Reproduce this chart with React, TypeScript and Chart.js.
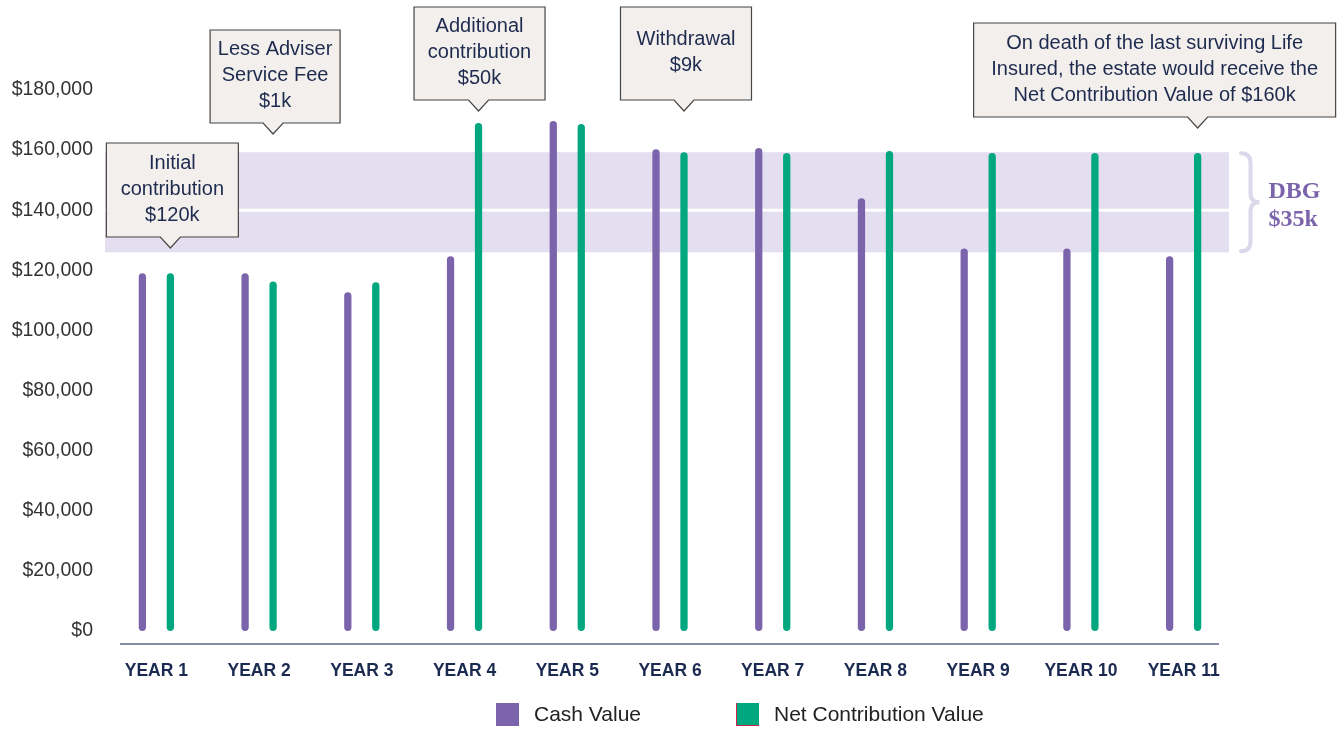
import React, { useEffect, useRef } from "react";
import { Chart, registerables } from "chart.js";

Chart.register(...registerables);

// ---------- data ----------
const CATEGORIES = ["YEAR 1", "YEAR 2", "YEAR 3", "YEAR 4", "YEAR 5", "YEAR 6", "YEAR 7", "YEAR 8", "YEAR 9", "YEAR 10", "YEAR 11"];
const CASH_VALUE = [119000, 119000, 112700, 124700, 169700, 160300, 160700, 144000, 127300, 127300, 124700];
const NET_CONTRIBUTION = [119000, 116300, 116000, 169000, 168700, 159300, 159000, 159700, 159000, 159000, 159000];
const Y_MIN = 0;
const Y_MAX = 180000;
const Y_STEP = 20000;
const DBG_RANGE = [126000, 159300];
const DBG_SPLIT = 140000;
const DBG_LABEL = ["DBG", "$35k"];
const LEGEND_LABELS = ["Cash Value", "Net Contribution Value"];
const CALLOUT_TEXT = [
  ["Initial", "contribution", "$120k"],
  ["Less Adviser", "Service Fee", "$1k"],
  ["Additional", "contribution", "$50k"],
  ["Withdrawal", "$9k"],
  ["On death of the last surviving Life", "Insured, the estate would receive the", "Net Contribution Value of $160k"],
];
const CALLOUT_TARGET = [0, 1, 3, 5, 10];

// ---------- styles / layout ----------
const PURPLE = "#7b64ab";
const GREEN = "#00a77f";
const BAND = "#e3dff0";
const NAVY = "#1e2b4f";
const SANS = "'Liberation Sans', Arial, Helvetica, sans-serif";
const SERIF = "'Liberation Serif', 'Times New Roman', serif";
const CALLOUT_BOXES = [
  { top: 143, w: 132, h: 94, dx: 2 },
  { top: 30, w: 130, h: 93, dx: 2 },
  { top: 7, w: 131, h: 93, dx: 1 },
  { top: 7, w: 131, h: 93, dx: 2 },
  { top: 23, w: 362, h: 94, dx: -43 },
];

function drawCallout(ctx: CanvasRenderingContext2D, tipX: number, box: any, lines: string[]) {
  const cx = tipX + box.dx;
  const left = cx - box.w / 2;
  const right = left + box.w;
  const top = box.top;
  const bottom = top + box.h;
  ctx.save();
  ctx.beginPath();
  ctx.moveTo(left, top);
  ctx.lineTo(right, top);
  ctx.lineTo(right, bottom);
  ctx.lineTo(tipX + 10, bottom);
  ctx.lineTo(tipX, bottom + 11);
  ctx.lineTo(tipX - 10, bottom);
  ctx.lineTo(left, bottom);
  ctx.closePath();
  ctx.fillStyle = "#f2efec";
  ctx.fill();
  ctx.strokeStyle = "#454545";
  ctx.lineWidth = 1.2;
  ctx.stroke();
  ctx.fillStyle = NAVY;
  ctx.font = `20px ${SANS}`;
  ctx.textAlign = "center";
  ctx.textBaseline = "middle";
  const lh = 26;
  const cy = top + box.h / 2 - 1;
  const y0 = cy - ((lines.length - 1) / 2) * lh;
  lines.forEach((t, i) => ctx.fillText(t, cx, y0 + i * lh));
  ctx.restore();
}

const overlayPlugin = {
  id: "overlay",
  beforeDatasetsDraw(chart: any) {
    const { ctx, chartArea, scales } = chart;
    const y = scales.y;
    const top = y.getPixelForValue(DBG_RANGE[1]);
    const bot = y.getPixelForValue(DBG_RANGE[0]);
    const mid = y.getPixelForValue(DBG_SPLIT);
    const w = chartArea.right - 6 - chartArea.left;
    ctx.save();
    ctx.fillStyle = BAND;
    ctx.fillRect(chartArea.left, top, w, bot - top);
    ctx.fillStyle = "#ffffff";
    ctx.fillRect(chartArea.left, mid - 1.5, w, 3);
    // x axis line
    const zero = y.getPixelForValue(0);
    ctx.strokeStyle = "#5f6680";
    ctx.lineWidth = 1.5;
    ctx.beginPath();
    ctx.moveTo(chartArea.left + 15, zero + 13);
    ctx.lineTo(chartArea.right - 16, zero + 13);
    ctx.stroke();
    ctx.restore();
  },
  afterDraw(chart: any) {
    const { ctx, chartArea, scales } = chart;
    const y = scales.y;
    const top = y.getPixelForValue(DBG_RANGE[1]);
    const bot = y.getPixelForValue(DBG_RANGE[0]);
    const midY = (top + bot) / 2;
    const r = chartArea.right;
    // brace
    ctx.save();
    ctx.strokeStyle = "#dcd8ec";
    ctx.lineWidth = 4;
    ctx.lineCap = "round";
    const xl = r + 6, xv = r + 15.5, xt = r + 24.5;
    ctx.beginPath();
    ctx.moveTo(xl, top + 1);
    ctx.quadraticCurveTo(xv, top + 1, xv, top + 11);
    ctx.lineTo(xv, midY - 9);
    ctx.quadraticCurveTo(xv, midY, xt, midY);
    ctx.quadraticCurveTo(xv, midY, xv, midY + 9);
    ctx.lineTo(xv, bot - 11);
    ctx.quadraticCurveTo(xv, bot - 1, xl, bot - 1);
    ctx.stroke();
    // DBG label
    ctx.fillStyle = PURPLE;
    ctx.font = `bold 24px ${SERIF}`;
    ctx.textAlign = "left";
    ctx.textBaseline = "alphabetic";
    ctx.fillText(DBG_LABEL[0], r + 33.5, 198);
    ctx.fillText(DBG_LABEL[1], r + 33.5, 226);
    ctx.restore();

    // callouts
    const meta = chart.getDatasetMeta(1);
    CALLOUT_TEXT.forEach((lines, i) => {
      const el = meta.data[CALLOUT_TARGET[i]];
      if (el) drawCallout(ctx, el.x, CALLOUT_BOXES[i], lines);
    });

    // legend
    ctx.save();
    const items = [
      { x: 496, color: PURPLE, label: LEGEND_LABELS[0] },
      { x: 736, color: GREEN, label: LEGEND_LABELS[1] },
    ];
    items.forEach((it, i) => {
      ctx.fillStyle = it.color;
      ctx.fillRect(it.x, 703, 23, 23);
      if (i === 1) {
        ctx.fillStyle = "#d0204a";
        ctx.fillRect(it.x, 703, 1, 23);
        ctx.fillRect(it.x, 725, 23, 1);
      }
      ctx.fillStyle = "#222222";
      ctx.font = `21px ${SANS}`;
      ctx.textAlign = "left";
      ctx.textBaseline = "middle";
      ctx.fillText(it.label, it.x + 38, 715);
    });
    ctx.restore();
  },
};

export default function App() {
  const canvasRef = useRef<HTMLCanvasElement | null>(null);

  useEffect(() => {
    if (!canvasRef.current) return;
    const chart = new Chart(canvasRef.current, {
      type: "bar",
      data: {
        labels: CATEGORIES,
        datasets: [
          {
            label: LEGEND_LABELS[0],
            data: CASH_VALUE,
            backgroundColor: PURPLE,
            borderRadius: 4,
            borderSkipped: false,
            categoryPercentage: 0.545,
            barPercentage: 0.26,
          },
          {
            label: LEGEND_LABELS[1],
            data: NET_CONTRIBUTION,
            backgroundColor: GREEN,
            borderRadius: 4,
            borderSkipped: false,
            categoryPercentage: 0.545,
            barPercentage: 0.26,
          },
        ],
      },
      options: {
        animation: false,
        responsive: true,
        maintainAspectRatio: false,
        layout: { padding: { left: 0, right: 105, top: 90, bottom: 17 } },
        plugins: {
          legend: { display: false },
          tooltip: { enabled: false },
        },
        scales: {
          x: {
            grid: { display: false, drawTicks: false },
            border: { display: false },
            ticks: {
              padding: 30,
              color: "#1b2a50",
              font: { family: SANS, size: 17.5, weight: "bold" },
              maxRotation: 0,
              autoSkip: false,
            },
          },
          y: {
            min: Y_MIN,
            max: Y_MAX,
            grid: { display: false, drawTicks: false },
            border: { display: false },
            afterFit: (s: any) => {
              s.width = 105;
            },
            ticks: {
              stepSize: Y_STEP,
              padding: 12,
              color: "#333333",
              font: { family: SANS, size: 19.5 },
              callback: (v: any) => "$" + Number(v).toLocaleString("en-US"),
            },
          },
        },
      },
      plugins: [overlayPlugin],
    });
    return () => chart.destroy();
  }, []);

  return (
    <div style={{ position: "fixed", left: 0, top: 0, width: 1340, height: 729, background: "#fff" }}>
      <canvas ref={canvasRef} />
    </div>
  );
}
